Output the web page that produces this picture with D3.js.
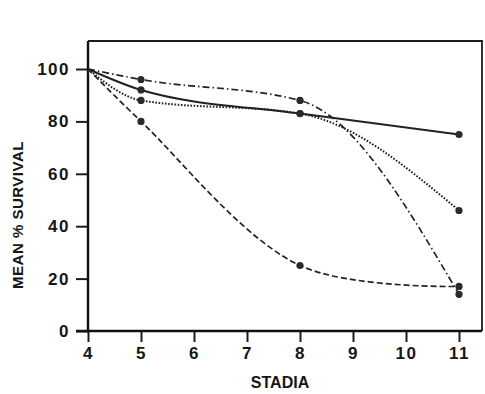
<!DOCTYPE html>
<html>
<head>
<meta charset="utf-8">
<script src="https://cdn.jsdelivr.net/npm/d3@7"></script>
<style>
  html, body { margin: 0; padding: 0; background: #fff; }
  svg { display: block; }
  text { font-family: "Liberation Sans", Arial, Helvetica, sans-serif; font-weight: bold; fill: #161616; }
</style>
</head>
<body>
<svg id="chart" width="485" height="394"></svg>
<script>
// Stadia along the x axis and survival values per treatment group
const stadia = [4, 5, 8, 11];
const xTicks = [4, 5, 6, 7, 8, 9, 10, 11];
const yTicks = [0, 20, 40, 60, 80, 100];

const seriesDashDot = [100, 96, 88, 14];
const seriesSolid   = [100, 92, 83, 75];
const seriesDotted  = [100, 88, 83, 46];
const seriesDashed  = [100, 80, 25, 17];

const series = [
  { values: seriesDashDot, dash: "7,3,1.5,3", width: 1.7, curve: d3.curveMonotoneX },
  { values: seriesSolid,   dash: null,        width: 2,   curve: d3.curveMonotoneX },
  { values: seriesDotted,  dash: "1.6,1.6",   width: 2,   curve: d3.curveMonotoneX },
  { values: seriesDashed,  dash: "6,3",       width: 1.7, curve: d3.curveCatmullRom.alpha(0.5) }
];

const svg = d3.select("#chart");
const frame = { left: 88, right: 482, top: 41, bottom: 331 };

const x = d3.scaleLinear().domain([4, 11]).range([88, 459]);
const y = d3.scaleLinear().domain([0, 100]).range([331, 69]);

// frame: top and right edges, thinner than the axes
svg.append("path")
  .attr("d", `M${frame.left},${frame.top}H${frame.right}V${frame.bottom}`)
  .attr("fill", "none").attr("stroke", "#1c1c1c").attr("stroke-width", 1.8);

// y axis
const yAxis = svg.append("g")
  .attr("transform", `translate(${frame.left},0)`)
  .call(d3.axisLeft(y).tickValues(yTicks).tickSize(12).tickPadding(6).tickSizeOuter(0).tickFormat(d3.format("d")));
yAxis.select(".domain").remove();
yAxis.selectAll(".tick line").attr("stroke", "#1c1c1c").attr("stroke-width", 2);
yAxis.selectAll(".tick text").style("font-size", "17px").attr("letter-spacing", "1.5px").attr("fill", "#161616");

// x axis
const xAxis = svg.append("g")
  .attr("transform", `translate(0,${frame.bottom})`)
  .call(d3.axisBottom(x).tickValues(xTicks).tickSize(11).tickPadding(5).tickSizeOuter(0).tickFormat(d3.format("d")));
xAxis.select(".domain").remove();
xAxis.selectAll(".tick line").attr("stroke", "#1c1c1c").attr("stroke-width", 2);
xAxis.selectAll(".tick text").style("font-size", "17px").attr("letter-spacing", "1.5px").attr("fill", "#161616");

// axis lines
svg.append("line")
  .attr("x1", frame.left).attr("x2", frame.left)
  .attr("y1", frame.top).attr("y2", frame.bottom)
  .attr("stroke", "#111").attr("stroke-width", 2.4);
svg.append("line")
  .attr("x1", 76).attr("x2", frame.right)
  .attr("y1", frame.bottom).attr("y2", frame.bottom)
  .attr("stroke", "#111").attr("stroke-width", 2.4);

// curves
svg.append("g").selectAll("path")
  .data(series)
  .join("path")
  .attr("d", s => d3.line()
      .x((d, i) => x(stadia[i]))
      .y(d => y(d))
      .curve(s.curve)(s.values))
  .attr("fill", "none")
  .attr("stroke", "#222")
  .attr("stroke-width", s => s.width)
  .attr("stroke-dasharray", s => s.dash);

// data points (the shared starting value at stadium 4 has no marker)
const pts = [];
series.forEach(s => s.values.forEach((v, i) => { if (i > 0) pts.push([stadia[i], v]); }));
svg.append("g").selectAll("circle")
  .data(pts)
  .join("circle")
  .attr("cx", d => x(d[0]))
  .attr("cy", d => y(d[1]))
  .attr("r", 3.6)
  .attr("fill", "#2a2a2a");

// axis titles
svg.append("text")
  .attr("x", 280).attr("y", 388)
  .attr("text-anchor", "middle")
  .style("font-size", "16px")
  .text("STADIA");

svg.append("text")
  .attr("transform", "translate(23,215) rotate(-90)")
  .attr("text-anchor", "middle")
  .style("font-size", "15px")
  .attr("letter-spacing", "0.5px")
  .text("MEAN % SURVIVAL");
</script>
</body>
</html>
